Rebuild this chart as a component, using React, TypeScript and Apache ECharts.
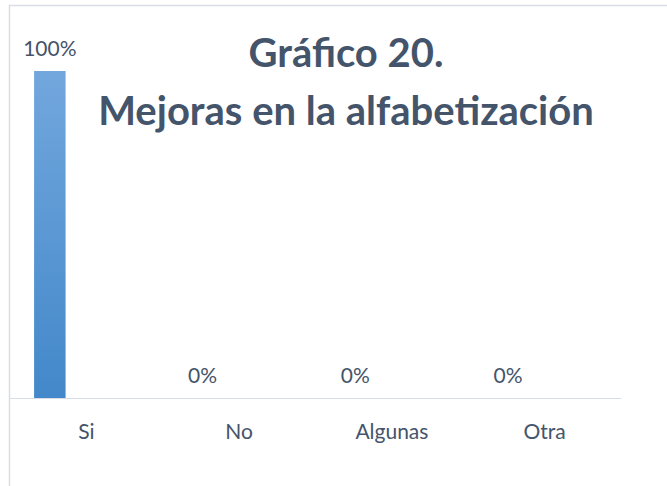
import React, { useEffect, useRef } from "react";
import * as echarts from "echarts";

const categories = ["Si", "No", "Algunas", "Otra"];
const values = [1, 0, 0, 0];
const emptySeries = ["-", "-", "-", "-"];
const titleLines = ["Gráfico 20.", "Mejoras en la alfabetización"];

const TEXT = "#44546A";
const FONT = "Lato, 'Open Sans', sans-serif";

export default function App() {
  const ref = useRef<HTMLDivElement>(null);
  useEffect(() => {
    if (!ref.current) return;
    const chart = echarts.init(ref.current, undefined, { renderer: "svg" });
    chart.setOption({
      animation: false,
      backgroundColor: "#ffffff",
      textStyle: { fontFamily: FONT },
      grid: { left: 10, right: 46, top: 71, bottom: 88, containLabel: false },
      xAxis: {
        type: "category",
        data: categories,
        axisLine: { show: true, lineStyle: { color: "#D9DEE6", width: 1 } },
        axisTick: { show: false },
        axisLabel: { color: TEXT, fontSize: 21, fontFamily: FONT, margin: 22 },
        splitLine: { show: false },
      },
      yAxis: { type: "value", min: 0, max: 1, show: false, splitLine: { show: false } },
      series: [
        {
          type: "bar",
          data: values,
          barWidth: 31.5,
          barGap: "16%",
          itemStyle: {
            color: new echarts.graphic.LinearGradient(0, 0, 0, 1, [
              { offset: 0, color: "#72A7DD" },
              { offset: 1, color: "#4388CA" },
            ]),
          },
          label: {
            show: true,
            position: "top",
            distance: 13,
            color: TEXT,
            fontSize: 21,
            fontFamily: FONT,
            formatter: (p: any) => Math.round(p.value * 100) + "%",
          },
        },
        { type: "bar", data: emptySeries, barWidth: 31.5, barGap: "16%" },
        { type: "bar", data: emptySeries, barWidth: 31.5, barGap: "16%" },
      ],
      graphic: [
        {
          type: "rect",
          shape: { x: 9.5, y: 5.5, width: 800, height: 600 },
          style: { fill: "none", stroke: "#D9DEE6", lineWidth: 1.5 },
          silent: true,
        },
        {
          type: "text",
          x: 346,
          y: 52,
          style: {
            text: titleLines[0],
            fill: TEXT,
            font: `bold 40px ${FONT}`,
            textAlign: "center",
            textVerticalAlign: "middle",
          },
        },
        {
          type: "text",
          x: 346,
          y: 110,
          style: {
            text: titleLines[1],
            fill: TEXT,
            font: `bold 40px ${FONT}`,
            textAlign: "center",
            textVerticalAlign: "middle",
          },
        },
      ],
    });
    return () => chart.dispose();
  }, []);
  return (
    <div
      ref={ref}
      style={{ position: "fixed", left: 0, top: 0, width: 667, height: 486 }}
    />
  );
}
